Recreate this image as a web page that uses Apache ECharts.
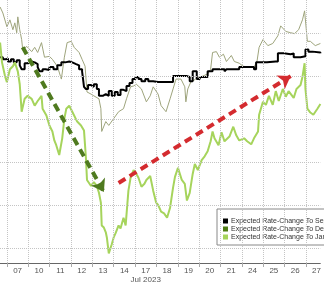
<!DOCTYPE html>
<html><head><meta charset="utf-8">
<script src="https://cdn.jsdelivr.net/npm/echarts@6/dist/echarts.min.js"></script>
<style>html,body{margin:0;padding:0;background:#fff}#c{width:324px;height:284px}</style>
</head><body><div id="c"></div>
<script>
// x = trading-day index (day k spans [k, k+1], 0 = Jul 07); y = expected rate change (chart units)
const dayLabels = ['07', '10', '11', '12', '13', '14', '17', '18', '19', '20', '21', '24', '25', '26', '27'];
const monthLabel = 'Jul 2023';
const monthAt = '17';
const seriesNames = ['Expected Rate-Change To Sep', 'Expected Rate-Change To Dec', 'Expected Rate-Change To Jan'];
const gridValues = [0, 10, 20, 30, 40, 50];
const xRange = [-0.324, 14.676];
const yRange = [-3.456, 57.83];

const sepX = [-0.32,-0.19,-0.05,0.05,0.19,0.32,0.46,0.60,0.69,0.83,0.97,1.16,1.30,1.44,1.53,1.67,1.81,1.99,2.18,2.36,2.55,2.73,2.92,3.06,3.24,3.38,3.52,3.61,3.70,3.80,3.94,4.07,4.21,4.31,4.49,4.63,4.77,4.91,5.05,5.19,5.32,5.46,5.60,5.74,5.88,6.02,6.16,6.30,6.48,6.62,6.85,7.08,7.36,7.64,7.78,8.01,8.24,8.43,8.56,8.70,8.89,9.03,9.17,9.40,9.63,9.95,10.19,10.28,10.60,10.88,11.25,11.57,11.67,11.94,12.18,12.59,12.69,12.96,13.29,13.43,13.75,13.98,14.12,14.31,14.68];
const sepY = [44.5,44.0,44.2,43.5,44.0,43.3,43.8,42.6,41.7,43.1,43.5,43.3,42.9,42.2,41.2,41.7,41.5,42.2,41.7,42.6,43.3,43.5,43.3,42.9,42.6,41.7,41.2,37.6,37.1,38.0,37.6,38.2,37.1,35.5,35.9,35.5,36.6,35.5,36.4,35.7,36.9,36.6,37.8,38.5,39.4,39.9,39.4,38.9,39.4,38.9,38.7,38.7,38.7,38.7,40.1,40.1,40.1,39.9,38.9,41.2,39.4,39.9,39.9,41.2,41.7,41.7,41.2,41.7,41.7,42.2,42.2,41.7,43.3,43.3,43.5,43.5,45.4,45.2,45.4,44.5,44.7,46.3,45.8,45.6,45.4];

const decX = [-0.32,-0.19,0,0.14,0.28,0.37,0.46,0.51,0.60,0.69,0.74,0.93,1.16,1.30,1.44,1.62,1.76,1.99,2.13,2.36,2.55,2.69,2.82,3.01,3.15,3.38,3.52,3.66,3.75,3.94,4.07,4.31,4.40,4.44,4.63,4.77,5.00,5.23,5.46,5.60,5.79,5.93,6.06,6.30,6.53,6.71,6.85,7.08,7.22,7.45,7.64,7.78,7.92,8.15,8.33,8.38,8.47,8.61,8.84,9.17,9.40,9.54,9.63,9.81,9.95,10.14,10.28,10.51,10.65,10.88,11.06,11.30,11.57,11.71,11.81,11.99,12.22,12.45,12.69,12.82,13.06,13.29,13.47,13.66,13.84,13.94,14.07,14.21,14.44,14.68];
const decY = [56.2,54.8,51.6,53.2,50.9,52.5,50.2,53.9,50.9,48.6,46.3,47.0,45.8,46.8,45.6,47.9,44.5,44.7,44.0,42.4,39.4,44.5,47.9,48.2,46.8,45.6,44.0,42.4,36.4,35.9,35.5,34.8,32.5,27.2,29.5,28.6,30.2,31.8,32.5,34.8,37.6,37.8,38.2,37.1,34.1,35.5,37.6,35.9,33.2,31.8,34.8,37.1,39.4,39.4,37.6,34.1,37.1,38.7,39.4,40.1,40.6,41.7,45.6,45.8,44.5,45.2,43.5,44.9,43.5,43.1,42.4,42.2,42.2,43.5,46.8,48.6,47.2,47.7,49.5,51.8,50.5,50.2,50.0,50.9,53.2,55.3,48.2,48.2,47.2,47.7];

const janX = [-0.32,-0.23,-0.09,0,0.14,0.28,0.37,0.51,0.60,0.69,0.83,0.97,1.16,1.30,1.44,1.62,1.67,1.85,1.99,2.13,2.22,2.31,2.45,2.59,2.69,2.78,2.92,3.06,3.29,3.47,3.61,3.70,3.75,3.94,4.07,4.21,4.31,4.40,4.44,4.54,4.63,4.68,4.77,4.91,5.00,5.09,5.23,5.32,5.46,5.56,5.69,5.79,5.93,6.02,6.16,6.30,6.44,6.53,6.71,6.85,6.99,7.08,7.22,7.36,7.50,7.55,7.64,7.78,7.87,8.01,8.19,8.33,8.43,8.56,8.70,8.80,8.94,9.12,9.26,9.40,9.54,9.63,9.72,9.91,10.05,10.19,10.42,10.60,10.74,10.88,11.11,11.25,11.44,11.57,11.76,11.81,11.99,12.13,12.27,12.45,12.59,12.73,12.92,13.06,13.19,13.43,13.56,13.75,13.84,13.94,13.98,14.07,14.21,14.35,14.54,14.68];
const janY = [47.9,43.3,40.1,38.7,41.7,42.4,43.3,41.2,38.2,31.8,34.8,35.5,34.8,33.2,34.3,35.5,32.5,30.9,28.6,27.2,25.1,24.0,21.7,25.6,30.2,32.5,33.2,31.8,29.5,28.6,27.4,21.0,15.9,14.5,15.4,14.5,12.9,10.6,5.3,4.8,3.7,2.5,-1.2,0.9,2.5,3.5,5.3,4.6,7.1,5.3,13.4,16.4,18.2,17.7,16.4,14.3,15.0,15.9,16.8,13.4,10.6,10.1,8.5,8.1,7.1,6.7,9.4,14.1,16.6,18.7,15.9,15.0,11.1,12.9,17.3,19.6,18.2,20.5,21.4,22.6,24.9,27.2,25.6,24.0,27.0,24.9,26.0,28.3,26.3,25.1,25.6,24.9,24.2,25.6,27.2,31.1,34.1,33.4,35.5,33.4,36.6,34.3,37.1,35.3,36.6,35.0,37.1,38.0,39.9,43.1,37.1,32.5,31.6,31.1,32.5,33.6];

const arrowDown = [[0.74, 46.8], [4.54, 13.1]];
const arrowUp = [[5.23, 15.2], [13.29, 40.1]];

const zip = (xs, ys) => xs.map((x, i) => [x, ys[i]]);
const dayBounds = dayLabels.map((_, i) => i);          // day boundaries (gridlines, ticks)
const dayCenters = dayLabels.map((_, i) => i + 0.5);   // label positions
const colors = { sep: '#000000', dec: '#9ea47c', decIcon: '#4f7d14', jan: '#a6d45c' };

const chart = echarts.init(document.getElementById('c'), null, { renderer: 'canvas' });
chart.setOption({
  animation: false,
  backgroundColor: '#ffffff',
  grid: { left: 0, right: 0, top: 0, bottom: 18 },
  xAxis: {
    type: 'value', min: xRange[0], max: xRange[1],
    axisLine: { show: true, onZero: false, lineStyle: { color: '#666', width: 1 } },
    axisTick: { show: true, length: 4, customValues: dayBounds, lineStyle: { color: '#aaa' } },
    splitLine: { show: false },
    axisLabel: {
      margin: 3, fontSize: 8, color: '#555', fontFamily: 'Liberation Sans', lineHeight: 9,
      customValues: dayCenters, showMinLabel: true, showMaxLabel: true,
      formatter: v => {
        const s = dayLabels[Math.round(v - 0.5)];
        return s === monthAt ? s + '\n' + monthLabel : s;
      }
    }
  },
  yAxis: { type: 'value', min: yRange[0], max: yRange[1], show: false, splitLine: { show: false } },
  legend: {
    orient: 'vertical', left: 217, top: 209,
    backgroundColor: '#fff', borderColor: '#888', borderWidth: 1, borderRadius: 0,
    padding: [8, 4, 4, 6], itemWidth: 5, itemHeight: 5, itemGap: 0,
    icon: 'rect',
    textStyle: { fontSize: 7, color: '#333', fontFamily: 'Liberation Sans', lineHeight: 8, padding: [0, 0, 0, -2] },
    data: [
      { name: seriesNames[0], itemStyle: { color: colors.sep } },
      { name: seriesNames[1], itemStyle: { color: colors.decIcon } },
      { name: seriesNames[2], itemStyle: { color: colors.jan } }
    ]
  },
  series: [
    {
      name: 'grid', type: 'line', data: [], z: 0, silent: true,
      markLine: {
        silent: true, symbol: ['none', 'none'], label: { show: false },
        lineStyle: { color: '#c4c4c4', type: 'dotted', width: 1 },
        data: gridValues.map(v => ({ yAxis: v })).concat(dayBounds.map(v => ({ xAxis: v })))
      }
    },
    {
      name: seriesNames[1], type: 'line', data: zip(decX, decY), showSymbol: false, z: 2,
      lineStyle: { color: colors.dec, width: 1 }, itemStyle: { color: colors.dec }
    },
    {
      name: seriesNames[0], type: 'line', data: zip(sepX, sepY), showSymbol: false, step: 'end', z: 3,
      lineStyle: { color: colors.sep, width: 2 }, itemStyle: { color: colors.sep }
    },
    {
      name: seriesNames[2], type: 'line', data: zip(janX, janY), showSymbol: false, z: 4,
      lineStyle: { color: colors.jan, width: 2 }, itemStyle: { color: colors.jan }
    },
    {
      name: 'arrows', type: 'line', data: [], z: 5, silent: true,
      markLine: {
        silent: true, symbol: ['none', 'arrow'], symbolSize: 12, label: { show: false },
        data: [
          [{ coord: arrowDown[0], lineStyle: { color: '#4f7a1f', width: 4, type: [8, 5] }, itemStyle: { color: '#4f7a1f' } }, { coord: arrowDown[1] }],
          [{ coord: arrowUp[0], lineStyle: { color: '#d42b2f', width: 4, type: [8, 5] }, itemStyle: { color: '#d42b2f' } }, { coord: arrowUp[1] }]
        ]
      }
    }
  ]
});
</script>
</body></html>
